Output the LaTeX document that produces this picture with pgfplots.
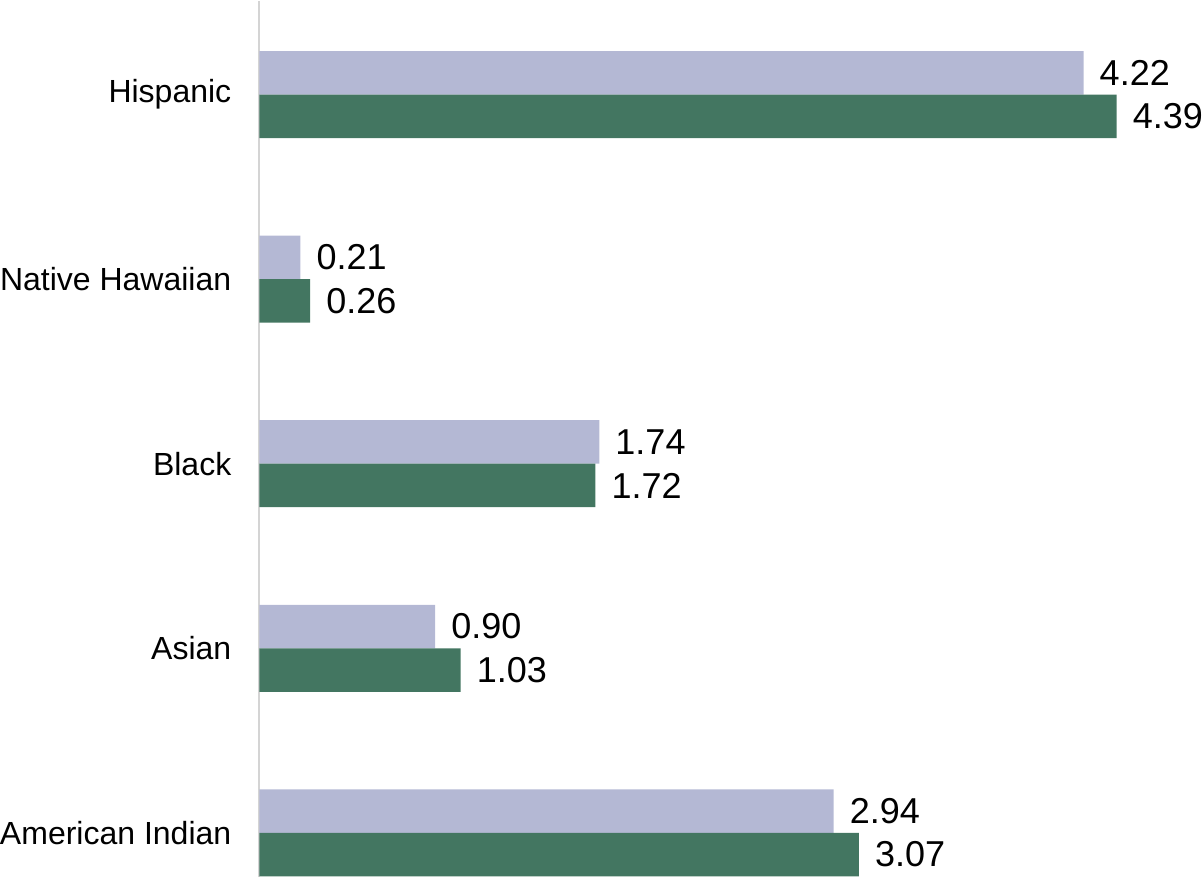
\documentclass[border=0pt]{standalone}
\usepackage{pgfplots}
\pgfplotsset{compat=1.18}
\usepackage{fontspec}
\setmainfont{Liberation Sans}
\definecolor{lav}{RGB}{180,184,212}
\definecolor{grn}{RGB}{67,118,97}
\definecolor{axgray}{RGB}{212,212,212}
\begin{document}
\begin{tikzpicture}
\begin{axis}[
  xbar,
  scale only axis,
  width=944pt, height=876pt,
  xmin=0, xmax=4.835,
  ymin=-0.24, ymax=4.507,
  enlargelimits=false,
  clip=false,
  axis x line=none,
  axis y line=left,
  y axis line style={draw=axgray, line width=2pt, -},
  ytick={0,1,2,3,4},
  yticklabels={American Indian,Asian,Black,Native Hawaiian,Hispanic},
  major tick length=0pt,
  yticklabel style={font=\fontsize{32}{38}\selectfont, inner sep=0pt, anchor=east, xshift=-28pt},
  bar width=43.5pt,
  nodes near coords,
  /pgf/number format/.cd, fixed, fixed zerofill, precision=2, assume math mode=true,
  /pgfplots/.cd,
  every node near coord/.append style={font=\fontsize{36}{42}\selectfont, inner sep=0pt, anchor=west, xshift=16pt, black},
]
\addplot[fill=lav, draw=none, bar shift=21.75pt] coordinates {(2.94,0) (0.90,1) (1.74,2) (0.21,3) (4.22,4)};
\addplot[fill=grn, draw=none, bar shift=-21.75pt] coordinates {(3.07,0) (1.03,1) (1.72,2) (0.26,3) (4.39,4)};
\end{axis}
\end{tikzpicture}
\end{document}
